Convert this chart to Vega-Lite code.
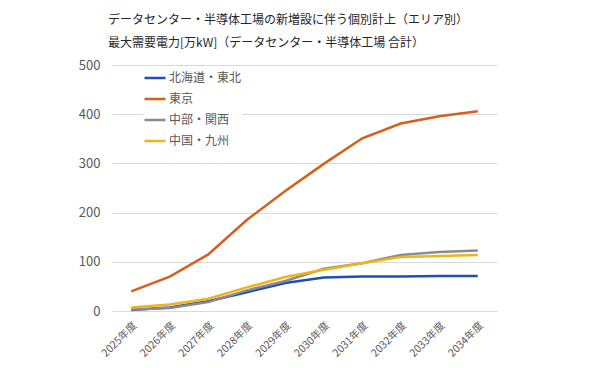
{
  "$schema": "https://vega.github.io/schema/vega-lite/v6.json",
  "width": 385,
  "height": 246,
  "autosize": {"type": "none"},
  "padding": {"left": 112, "top": 65, "right": 93, "bottom": 57},
  "background": "white",
  "config": {
    "font": "Noto Sans CJK JP",
    "view": {"stroke": null}
  },
  "title": {
    "text": ["データセンター・半導体工場の新増設に伴う個別計上（エリア別）", "最大需要電力[万kW]（データセンター・半導体工場 合計）"],
    "anchor": "start",
    "frame": "group",
    "dx": -4,
    "fontSize": 12,
    "fontWeight": "normal",
    "color": "#262626",
    "lineHeight": 23,
    "offset": 9
  },
  "data": {
    "values": [
      {"year": "2025年度", "area": "北海道・東北", "value": 2},
      {"year": "2026年度", "area": "北海道・東北", "value": 7},
      {"year": "2027年度", "area": "北海道・東北", "value": 20},
      {"year": "2028年度", "area": "北海道・東北", "value": 38},
      {"year": "2029年度", "area": "北海道・東北", "value": 57},
      {"year": "2030年度", "area": "北海道・東北", "value": 68},
      {"year": "2031年度", "area": "北海道・東北", "value": 70},
      {"year": "2032年度", "area": "北海道・東北", "value": 70},
      {"year": "2033年度", "area": "北海道・東北", "value": 71},
      {"year": "2034年度", "area": "北海道・東北", "value": 71},
      {"year": "2025年度", "area": "東京", "value": 40},
      {"year": "2026年度", "area": "東京", "value": 70},
      {"year": "2027年度", "area": "東京", "value": 115},
      {"year": "2028年度", "area": "東京", "value": 185},
      {"year": "2029年度", "area": "東京", "value": 244},
      {"year": "2030年度", "area": "東京", "value": 299},
      {"year": "2031年度", "area": "東京", "value": 351},
      {"year": "2032年度", "area": "東京", "value": 381},
      {"year": "2033年度", "area": "東京", "value": 396},
      {"year": "2034年度", "area": "東京", "value": 406},
      {"year": "2025年度", "area": "中部・関西", "value": 3},
      {"year": "2026年度", "area": "中部・関西", "value": 6},
      {"year": "2027年度", "area": "中部・関西", "value": 18},
      {"year": "2028年度", "area": "中部・関西", "value": 42},
      {"year": "2029年度", "area": "中部・関西", "value": 61},
      {"year": "2030年度", "area": "中部・関西", "value": 86},
      {"year": "2031年度", "area": "中部・関西", "value": 97},
      {"year": "2032年度", "area": "中部・関西", "value": 114},
      {"year": "2033年度", "area": "中部・関西", "value": 120},
      {"year": "2034年度", "area": "中部・関西", "value": 123},
      {"year": "2025年度", "area": "中国・九州", "value": 7},
      {"year": "2026年度", "area": "中国・九州", "value": 13},
      {"year": "2027年度", "area": "中国・九州", "value": 25},
      {"year": "2028年度", "area": "中国・九州", "value": 48},
      {"year": "2029年度", "area": "中国・九州", "value": 69},
      {"year": "2030年度", "area": "中国・九州", "value": 84},
      {"year": "2031年度", "area": "中国・九州", "value": 97},
      {"year": "2032年度", "area": "中国・九州", "value": 110},
      {"year": "2033年度", "area": "中国・九州", "value": 112},
      {"year": "2034年度", "area": "中国・九州", "value": 114}
    ]
  },
  "mark": {"type": "line", "strokeWidth": 2.5},
  "encoding": {
    "x": {
      "field": "year",
      "type": "ordinal",
      "scale": {"type": "point", "padding": 0.5},
      "axis": {
        "title": null,
        "labelAngle": -45,
        "labelFontSize": 10.5,
        "labelColor": "#595959",
        "ticks": false,
        "domain": false,
        "grid": false,
        "labelPadding": 9
      }
    },
    "y": {
      "field": "value",
      "type": "quantitative",
      "scale": {"domain": [0, 500], "nice": false},
      "axis": {
        "title": null,
        "values": [0, 100, 200, 300, 400, 500],
        "labelFontSize": 13,
        "labelColor": "#595959",
        "ticks": false,
        "domain": false,
        "gridColor": "#D9D9D9",
        "gridWidth": 1,
        "labelPadding": 12
      }
    },
    "color": {
      "field": "area",
      "type": "nominal",
      "sort": ["北海道・東北", "東京", "中部・関西", "中国・九州"],
      "scale": {
        "domain": ["北海道・東北", "東京", "中部・関西", "中国・九州"],
        "range": ["#1F4FB4", "#D55F1B", "#8C8C8C", "#F0B418"]
      },
      "legend": {
        "title": null,
        "orient": "none",
        "legendX": 31,
        "legendY": 1,
        "symbolType": "stroke",
        "symbolSize": 440,
        "symbolStrokeWidth": 2.5,
        "labelFontSize": 12,
        "labelColor": "#595959",
        "rowPadding": 3,
        "labelOffset": 2,
        "fillColor": "white"
      }
    }
  }
}
